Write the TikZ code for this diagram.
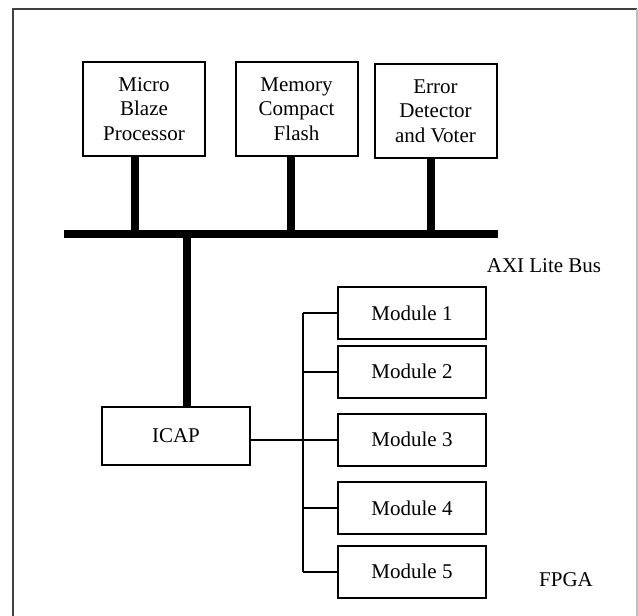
\documentclass[tikz,border=0pt]{standalone}
\usepackage{fontspec}
\setmainfont{Liberation Serif}
\usepackage{tikz}
\usetikzlibrary{positioning,calc}

\begin{document}
\begin{tikzpicture}[x=0.5pt, y=-0.5pt, font=\fontsize{10.5}{12.3}\selectfont]
\tikzset{blk/.style={draw, line width=1pt, align=center, inner sep=0pt}, unit/.style={blk, minimum width=61pt, minimum height=47pt}, modbox/.style={blk, minimum width=74pt, minimum height=26pt}, bus/.style={line width=3.8pt}, wire/.style={line width=1pt}}
\useasboundingbox (0,0) rectangle (638,616);
% FPGA outline (bottom edge runs off the page)
\draw[black!75, line width=1pt] (13,626) -- (13,9) -- (636.5,9);
\draw[black!25, line width=1pt] (636.5,9) -- (636.5,626);

% units on the bus
\node[unit] (mb) at (144,109) {Micro\\Blaze\\Processor};
\node[unit] (mem) at (296.5,109) {Memory\\Compact\\Flash};
\node[unit] (err) at (435.5,111) {Error\\Detector\\and Voter};
\coordinate (busL) at (64,234);
\coordinate (busR) at (498,234);
\draw[bus] (busL) -- (busR);
\draw[bus] ([xshift=-4.5pt]mb.south) -- ([xshift=-4.5pt]mb.south |- busL);
\draw[bus] ([xshift=-2.75pt]mem.south) -- ([xshift=-2.75pt]mem.south |- busL);
\draw[bus] ([xshift=-2.25pt]err.south) -- ([xshift=-2.25pt]err.south |- busL);
\node (axi) at (544,266) {AXI Lite Bus};

% reconfiguration port and modules
\node[blk, minimum width=74pt, minimum height=29pt] (icap) at (176,436) {ICAP};
\draw[bus] ([xshift=5.5pt]icap.north) -- ([xshift=5.5pt]icap.north |- busL);
\node[modbox] (m1) at (412,313) {Module 1};
\node[modbox] (m2) at (412,371.5) {Module 2};
\node[modbox] (m3) at (412,439.5) {Module 3};
\node[modbox] (m4) at (412,508) {Module 4};
\node[modbox] (m5) at (412,571.5) {Module 5};
\coordinate (trunk) at (303,0);
\foreach \i in {1,...,5}
  \draw[wire] (m\i.west) -- (m\i.west -| trunk);
\draw[wire] (m1.west -| trunk) -- (m5.west -| trunk);
\draw[wire] (icap.east |- m3.west) -- (m3.west -| trunk);
\node (fpga) at (566,580) {FPGA};
\end{tikzpicture}
\end{document}
